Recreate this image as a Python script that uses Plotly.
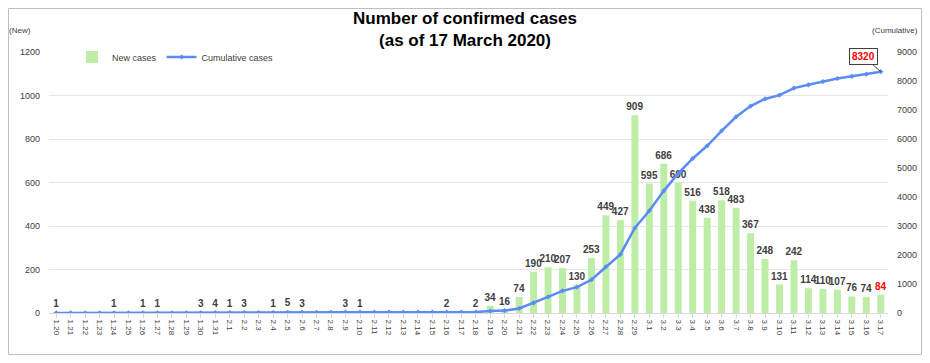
import plotly.graph_objects as go

dates = (["1.%d" % d for d in range(20, 32)] +
         ["2.%d" % d for d in range(1, 30)] +
         ["3.%d" % d for d in range(1, 18)])

new_cases = [1, 0, 0, 0, 1, 0, 1, 1, 0, 0, 3, 4,
             1, 3, 0, 1, 5, 3, 0, 0, 3, 1, 0, 0, 0, 0, 0, 2, 0, 2, 34, 16, 74, 190, 210, 207, 130, 253, 449, 427, 909,
             595, 686, 600, 516, 438, 518, 483, 367, 248, 131, 242, 114, 110, 107, 76, 74, 84]

cumulative = [1, 1, 1, 1, 2, 2, 3, 4, 4, 4, 7, 11,
              12, 15, 15, 16, 21, 24, 24, 24, 27, 28, 28, 28, 28, 28, 28, 30, 30, 32, 66, 82, 156, 346, 556, 763, 893,
              1146, 1595, 2022, 2931,
              3526, 4212, 4812, 5328, 5766, 6284, 6767, 7134, 7382, 7513, 7755, 7869, 7979, 8086, 8162, 8236, 8320]

left_ticks = [0, 200, 400, 600, 800, 1000, 1200]
right_ticks = [0, 1000, 2000, 3000, 4000, 5000, 6000, 7000, 8000, 9000]

FONT = "Liberation Sans"
labels = ["<b>%d</b>" % v if v > 0 else "" for v in new_cases]
label_colors = ["#404040"] * (len(new_cases) - 1) + ["#FF0000"]

W, H = 914, 347
ML, MR, MT, MB = 41, 34, 44, 42
PW, PH = W - ML - MR, H - MT - MB

fig = go.Figure()
fig.add_trace(go.Bar(
    x=dates, y=new_cases, name="New cases",
    marker=dict(color="#BDEDA6", line=dict(width=0)),
    text=labels, textposition="outside", cliponaxis=False, constraintext="none",
    textfont=dict(family=FONT, size=10, color=label_colors),
    yaxis="y",
))
fig.add_trace(go.Scatter(
    x=dates, y=cumulative, name="Cumulative cases", mode="lines+markers",
    line=dict(color="#5B8CF5", width=2.5),
    marker=dict(color="#5B8CF5", size=4, symbol="diamond"),
    yaxis="y2",
))

fig.update_layout(
    width=W, height=H,
    margin=dict(l=ML, r=MR, t=MT, b=MB, autoexpand=False),
    paper_bgcolor="white", plot_bgcolor="white",
    showlegend=True,
    legend=dict(orientation="h", x=(64 - ML) / PW, y=1 - 5 / PH, xanchor="left", yanchor="middle",
                font=dict(family=FONT, size=9, color="#404040"), bgcolor="rgba(0,0,0,0)",
                itemwidth=30, tracegroupgap=0),
    bargap=0.52,
    title=dict(text="<b>Number of confirmed cases<br>(as of 17 March 2020)</b>",
               x=0.5, xanchor="center", y=1 - 16 / H, yanchor="top", yref="container",
               pad=dict(t=0, b=0), font=dict(family=FONT, size=17, color="#000000")),
    xaxis=dict(type="category", tickangle=90, tickfont=dict(family=FONT, size=8, color="#404040"),
               showgrid=False, showline=True, linecolor="#D9D9D9", ticks="outside",
               tickcolor="#D9D9D9", ticklen=4, range=[-0.5, len(dates) - 0.5], automargin=False),
    yaxis=dict(range=[0, 1200], tickvals=left_ticks, tickfont=dict(family=FONT, size=9, color="#404040"),
               showgrid=True, gridcolor="#E6E6E6", zeroline=False, ticks="", ticklabelstandoff=8,
               automargin=False),
    yaxis2=dict(range=[0, 9000], tickvals=right_ticks, overlaying="y", side="right",
                tickfont=dict(family=FONT, size=9, color="#404040"), showgrid=False, zeroline=False,
                ticklabelstandoff=8, automargin=False),
)

fig.add_annotation(text="(New)", xref="paper", yref="paper", x=(12 - ML) / PW, y=(PH + MT - 23) / PH,
                   xanchor="center", yanchor="middle", showarrow=False,
                   font=dict(family=FONT, size=8, color="#404040"))
fig.add_annotation(text="(Cumulative)", xref="paper", yref="paper", x=(912 - ML) / PW, y=(PH + MT - 23) / PH,
                   xanchor="right", yanchor="middle", showarrow=False,
                   font=dict(family=FONT, size=8, color="#404040"))
fig.add_annotation(text="<b>8320</b>", x=len(dates) - 1, y=cumulative[-1], xref="x", yref="y2",
                   ax=-17, ay=-15, showarrow=True, arrowhead=0, arrowwidth=1, arrowcolor="#404040",
                   bordercolor="#404040", borderwidth=1, borderpad=2, bgcolor="white",
                   font=dict(family=FONT, size=10, color="#FF0000"))

fig.add_shape(type="rect", xref="paper", yref="paper",
              x0=(0.5 - ML) / PW, x1=(W - 0.5 - ML) / PW, y0=(PH + MT - (H - 0.5)) / PH, y1=(PH + MT - 0.5) / PH,
              line=dict(color="#BFBFBF", width=1), fillcolor="rgba(0,0,0,0)", layer="below")

fig.write_html("out.html")
